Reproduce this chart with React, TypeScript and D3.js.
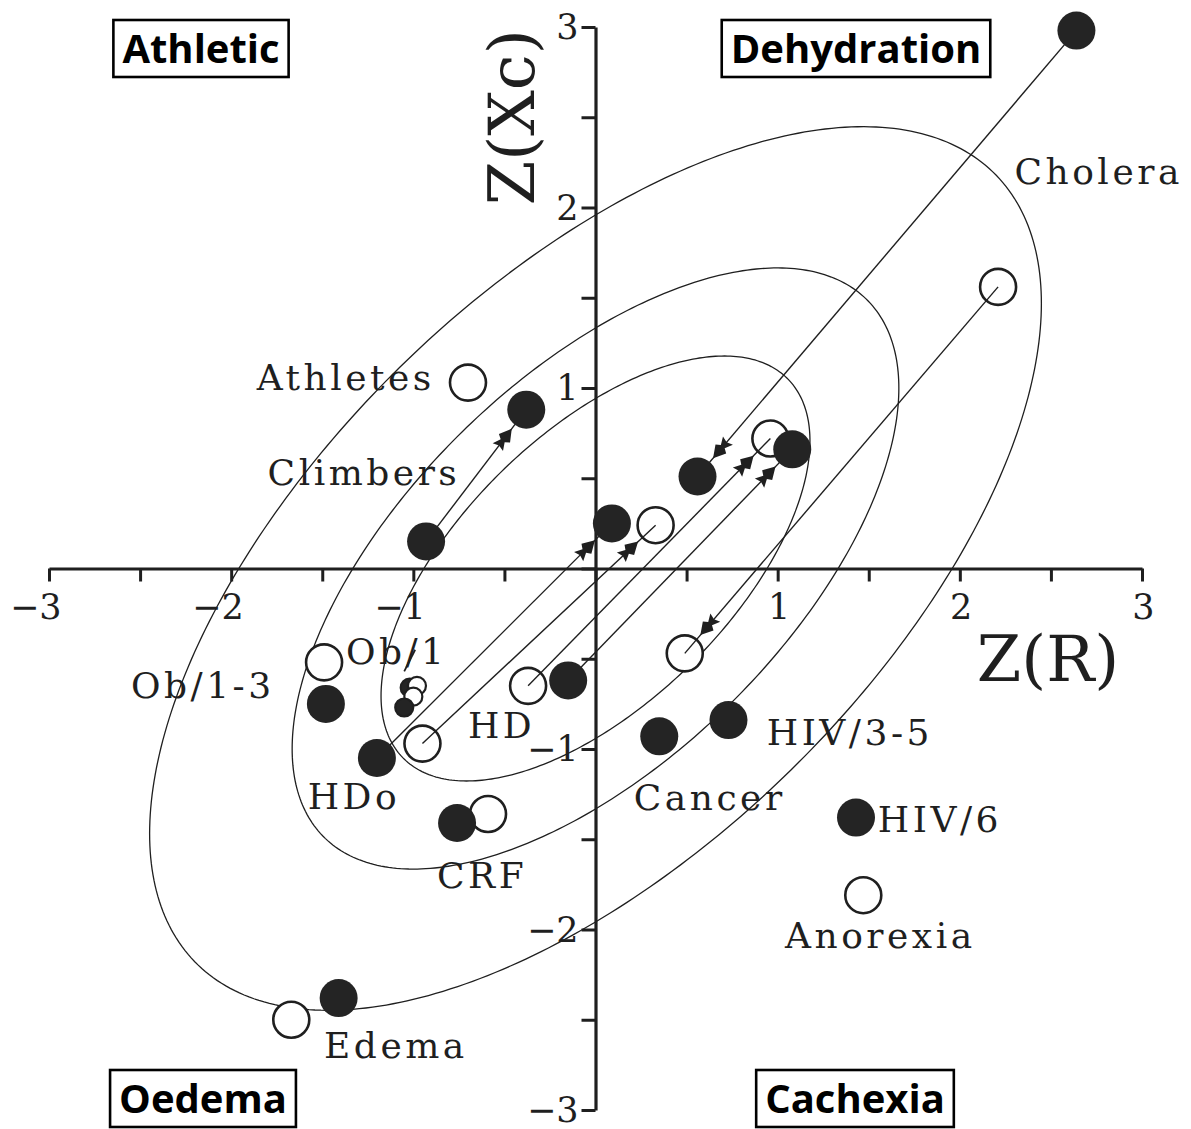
import React, { useEffect, useRef } from 'react';
import * as d3 from 'd3';

// Z-scores: Z(R) along x, Z(Xc) along y
const pointR = [2.64, 0.56, -0.93, -0.38, -1.2, 0.09, -0.15, 1.08, -1.48, -0.76, 0.35, 0.73, 1.43, -1.41,
  2.21, 0.49, -0.7, -0.95, 0.33, -0.37, 0.96, -1.49, -0.59, 1.47, -1.67];
const pointXc = [2.98, 0.51, 0.15, 0.88, -1.05, 0.25, -0.62, 0.66, -0.75, -1.41, -0.93, -0.84, -1.38, -2.38,
  1.56, -0.47, 1.03, -0.97, 0.24, -0.65, 0.72, -0.52, -1.36, -1.81, -2.5];
const pointKind = ['filled', 'filled', 'filled', 'filled', 'filled', 'filled', 'filled', 'filled', 'filled',
  'filled', 'filled', 'filled', 'filled', 'filled',
  'open', 'open', 'open', 'open', 'open', 'open', 'open', 'open', 'open', 'open', 'open'];

// small Ob/1 cluster
const clusterR = [-1.02, -0.98, -1.0, -1.05];
const clusterXc = [-0.66, -0.65, -0.71, -0.77];
const clusterKind = ['filled', 'open', 'open', 'filled'];

// arrows: index of start point -> index of end point
const arrowFrom = [0, 2, 4, 6, 14, 17, 19];
const arrowTo = [1, 3, 5, 7, 15, 18, 20];

// point labels (left end of baseline, in Z units)
const labelText = ['Cholera', 'Athletes', 'Climbers', 'Ob/1-3', 'Ob/1', 'HD', 'HDo', 'CRF', 'Cancer',
  'HIV/3-5', 'HIV/6', 'Anorexia', 'Edema'];
const labelR = [2.3, -1.86, -1.8, -2.55, -1.37, -0.7, -1.58, -0.87, 0.21, 0.94, 1.55, 1.04, -1.49];
const labelXc = [2.13, 0.99, 0.46, -0.72, -0.53, -0.94, -1.33, -1.77, -1.34, -0.98, -1.46, -2.1, -2.71];

// tolerance ellipses 50%, 75%, 95% (chi-square, 2 df)
const ellipseChi2 = [1.386, 2.773, 5.991];
const correlation = 0.6;

const tickValues = d3.range(-3, 3.01, 0.5);

const quadrants = [
  { text: 'Athletic', cx: 201, base: 63 },
  { text: 'Dehydration', cx: 856, base: 63 },
  { text: 'Oedema', cx: 203, base: 1113 },
  { text: 'Cachexia', cx: 855, base: 1113 },
];

const W = 1191;
const H = 1129;
const INK = '#1f1f1f';
const SERIF = '"DejaVu Serif", serif';

const App = () => {
  const ref = useRef<SVGSVGElement>(null);

  useEffect(() => {
    const svg = d3.select(ref.current);
    svg.selectAll('*').remove();

    const x = d3.scaleLinear().domain([-3, 3]).range([49, 1142]);
    const y = d3.scaleLinear().domain([-3, 3]).range([1110, 27]);

    // ellipses
    const ts = d3.range(0, 2 * Math.PI, Math.PI / 180);
    const k = Math.sqrt(1 - correlation * correlation);
    ellipseChi2.forEach((c) => {
      const s = Math.sqrt(c);
      const pts = ts.map((t) => [x(s * Math.cos(t)), y(s * (correlation * Math.cos(t) + k * Math.sin(t)))] as [number, number]);
      svg.append('path')
        .attr('d', d3.line().curve(d3.curveLinearClosed)(pts))
        .attr('fill', 'none')
        .attr('stroke', INK)
        .attr('stroke-width', 1.3);
    });

    // axes
    const fmt = (d: number) => (Number.isInteger(d) && d !== 0 ? (d < 0 ? '\u2212' + Math.abs(d) : String(d)) : '');
    const gx = svg.append('g')
      .attr('transform', `translate(0,${y(0)})`)
      .call(d3.axisBottom(x).tickValues(tickValues).tickSize(13).tickSizeOuter(0).tickFormat(fmt as any));
    const gy = svg.append('g')
      .attr('transform', `translate(${x(0)},0)`)
      .call(d3.axisLeft(y).tickValues(tickValues).tickSize(14).tickSizeOuter(0).tickFormat(fmt as any));
    [gx, gy].forEach((g) => {
      g.select('.domain').attr('stroke', INK).attr('stroke-width', 3.2);
      g.selectAll('.tick line').attr('stroke', INK).attr('stroke-width', 3);
      g.selectAll('.tick text')
        .attr('fill', INK)
        .style('font-family', SERIF)
        .style('font-size', '35px');
    });
    gx.selectAll('.tick text').attr('y', 26).attr('dy', '0.71em').attr('text-anchor', 'end').attr('dx', 12);
    gy.selectAll('.tick text').attr('x', -17).attr('dy', '0.34em').attr('text-anchor', 'end');

    // axis titles
    svg.append('text')
      .attr('transform', `translate(534,${y(2.5)}) rotate(-90)`)
      .attr('text-anchor', 'middle')
      .attr('fill', INK)
      .style('font-family', SERIF)
      .style('font-size', '64px')
      .text('Z(Xc)');
    svg.append('text')
      .attr('x', 1048)
      .attr('y', 681)
      .attr('text-anchor', 'middle')
      .attr('fill', INK)
      .style('font-family', SERIF)
      .style('font-size', '64px')
      .text('Z(R)');

    // open points under the lines
    const idx = d3.range(pointR.length);
    const R = 19;
    svg.append('g').selectAll('circle')
      .data(idx.filter((i) => pointKind[i] === 'open'))
      .join('circle')
      .attr('cx', (i) => x(pointR[i]))
      .attr('cy', (i) => y(pointXc[i]))
      .attr('r', R - 1)
      .attr('fill', 'white')
      .attr('stroke', INK)
      .attr('stroke-width', 2.6);

    // arrows
    arrowFrom.forEach((a, j) => {
      const b = arrowTo[j];
      const x0 = x(pointR[a]), y0 = y(pointXc[a]);
      const x1 = x(pointR[b]), y1 = y(pointXc[b]);
      svg.append('line')
        .attr('x1', x0).attr('y1', y0).attr('x2', x1).attr('y2', y1)
        .attr('stroke', INK).attr('stroke-width', 1.4);
      const ang = Math.atan2(y1 - y0, x1 - x0);
      const len = Math.hypot(x1 - x0, y1 - y0);
      const d = len - R - 5;
      svg.append('path')
        .attr('d', 'M0,0 L-12,-7 L-15,-2.5 L-23,-6.5 L-21,0 L-23,6.5 L-15,2.5 L-12,7 Z')
        .attr('transform', `translate(${x0 + d * Math.cos(ang)},${y0 + d * Math.sin(ang)}) rotate(${(ang * 180) / Math.PI})`)
        .attr('fill', INK);
    });

    // Ob/1 leader
    svg.append('line')
      .attr('x1', x(-1.05)).attr('y1', y(-0.57))
      .attr('x2', x(-0.99)).attr('y2', y(-0.45))
      .attr('stroke', INK).attr('stroke-width', 1.8);

    // filled points
    svg.append('g').selectAll('circle')
      .data(idx.filter((i) => pointKind[i] === 'filled'))
      .join('circle')
      .attr('cx', (i) => x(pointR[i]))
      .attr('cy', (i) => y(pointXc[i]))
      .attr('r', R)
      .attr('fill', '#242424');

    // cluster
    svg.append('g').selectAll('circle')
      .data(d3.range(clusterR.length))
      .join('circle')
      .attr('cx', (i) => x(clusterR[i]))
      .attr('cy', (i) => y(clusterXc[i]))
      .attr('r', 9)
      .attr('fill', (i) => (clusterKind[i] === 'open' ? 'white' : '#242424'))
      .attr('stroke', INK)
      .attr('stroke-width', 2.2);

    // point labels
    svg.append('g').selectAll('text')
      .data(d3.range(labelText.length))
      .join('text')
      .attr('x', (i) => x(labelR[i]))
      .attr('y', (i) => y(labelXc[i]))
      .attr('fill', INK)
      .style('font-family', SERIF)
      .style('font-size', '36px')
      .style('letter-spacing', '3.5px')
      .text((i) => labelText[i]);

    // quadrant boxes
    quadrants.forEach((q) => {
      const g = svg.append('g');
      const t = g.append('text')
        .attr('x', q.cx)
        .attr('y', q.base)
        .attr('text-anchor', 'middle')
        .attr('fill', '#000')
        .style('font-family', '"Open Sans", sans-serif')
        .style('font-weight', 700)
        .style('font-size', '40px')
        .text(q.text);
      const bb = (t.node() as SVGTextElement).getBBox();
      g.insert('rect', 'text')
        .attr('x', bb.x - 9)
        .attr('y', q.base - 43)
        .attr('width', bb.width + 18)
        .attr('height', 57)
        .attr('fill', 'white')
        .attr('stroke', '#000')
        .attr('stroke-width', 2.6);
    });
  }, []);

  return (
    <svg
      ref={ref}
      width={W}
      height={H}
      style={{ position: 'absolute', left: 0, top: 0, background: 'white' }}
    />
  );
};

export default App;
